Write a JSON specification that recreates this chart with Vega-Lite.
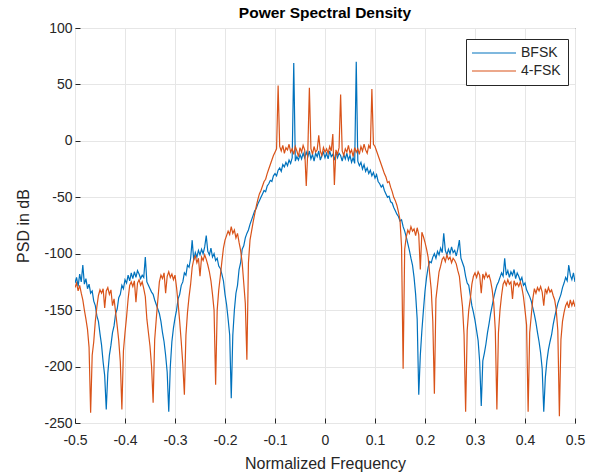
{
"$schema": "https://vega.github.io/schema/vega-lite/v6.json",
"width": 500, "height": 395,
"autosize": {"type": "none"},
"padding": {"left": 75, "top": 28, "right": 19, "bottom": 49},
"background": "white",
"title": {"text": "Power Spectral Density", "font": "Liberation Sans", "fontSize": 15.5, "fontWeight": "bold", "color": "#000000", "anchor": "middle", "offset": 0},
"config": {
  "view": {"stroke": "#262626", "strokeWidth": 1},
  "axis": {"labelFont": "Liberation Sans", "titleFont": "Liberation Sans", "labelFontSize": 14, "titleFontSize": 16, "titleFontWeight": "normal", "labelColor": "#262626", "titleColor": "#262626", "gridColor": "#e6e6e6", "gridWidth": 1, "domain": false, "tickColor": "#262626", "tickSize": -5, "labelExpr": "toString(datum.value)"}
},
"data": {"values": [
{"f":-0.5,"b":-126,"o":-130},{"f":-0.496875,"b":-121,"o":-126},{"f":-0.49375,"b":-129,"o":-133},{"f":-0.490625,"b":-118,"o":-128},{"f":-0.4875,"b":-125,"o":-135},{"f":-0.484375,"b":-110,"o":-141},{"f":-0.48125,"b":-127,"o":-150},{"f":-0.478125,"b":-122,"o":-158},{"f":-0.475,"b":-131,"o":-167},{"f":-0.471875,"b":-127,"o":-183},
{"f":-0.46875,"b":-135,"o":-241},{"f":-0.465625,"b":-133,"o":-190},{"f":-0.4625,"b":-142,"o":-178},{"f":-0.459375,"b":-146,"o":-160},{"f":-0.45625,"b":-155,"o":-147},{"f":-0.453125,"b":-160,"o":-137},{"f":-0.45,"b":-171,"o":-132},{"f":-0.446875,"b":-181,"o":-135},{"f":-0.44375,"b":-196,"o":-131},{"f":-0.440625,"b":-208,"o":-148},
{"f":-0.4375,"b":-238,"o":-133},{"f":-0.434375,"b":-206,"o":-130},{"f":-0.43125,"b":-190,"o":-136},{"f":-0.428125,"b":-181,"o":-132},{"f":-0.425,"b":-170,"o":-146},{"f":-0.421875,"b":-164,"o":-140},{"f":-0.41875,"b":-153,"o":-152},{"f":-0.415625,"b":-149,"o":-164},{"f":-0.4125,"b":-139,"o":-177},{"f":-0.409375,"b":-136,"o":-196},
{"f":-0.40625,"b":-128,"o":-238},{"f":-0.403125,"b":-131,"o":-186},{"f":-0.4,"b":-123,"o":-170},{"f":-0.396875,"b":-126,"o":-156},{"f":-0.39375,"b":-119,"o":-140},{"f":-0.390625,"b":-124,"o":-128},{"f":-0.3875,"b":-117,"o":-125},{"f":-0.384375,"b":-122,"o":-129},{"f":-0.38125,"b":-116,"o":-124},{"f":-0.378125,"b":-121,"o":-143},
{"f":-0.375,"b":-115,"o":-126},{"f":-0.371875,"b":-118,"o":-123},{"f":-0.36875,"b":-122,"o":-128},{"f":-0.365625,"b":-119,"o":-125},{"f":-0.3625,"b":-121,"o":-131},{"f":-0.359375,"b":-103,"o":-138},{"f":-0.35625,"b":-125,"o":-158},{"f":-0.353125,"b":-128,"o":-170},{"f":-0.35,"b":-131,"o":-182},{"f":-0.346875,"b":-134,"o":-200},
{"f":-0.34375,"b":-136,"o":-232},{"f":-0.340625,"b":-141,"o":-176},{"f":-0.3375,"b":-145,"o":-158},{"f":-0.334375,"b":-149,"o":-141},{"f":-0.33125,"b":-153,"o":-125},{"f":-0.328125,"b":-160,"o":-119},{"f":-0.325,"b":-170,"o":-122},{"f":-0.321875,"b":-178,"o":-117},{"f":-0.31875,"b":-190,"o":-135},{"f":-0.315625,"b":-205,"o":-120},
{"f":-0.3125,"b":-240,"o":-116},{"f":-0.309375,"b":-200,"o":-121},{"f":-0.30625,"b":-178,"o":-118},{"f":-0.303125,"b":-166,"o":-123},{"f":-0.3,"b":-157,"o":-119},{"f":-0.296875,"b":-150,"o":-130},{"f":-0.29375,"b":-140,"o":-144},{"f":-0.290625,"b":-136,"o":-160},{"f":-0.2875,"b":-128,"o":-178},{"f":-0.284375,"b":-125,"o":-198},
{"f":-0.28125,"b":-117,"o":-225},{"f":-0.278125,"b":-119,"o":-172},{"f":-0.275,"b":-110,"o":-152},{"f":-0.271875,"b":-112,"o":-138},{"f":-0.26875,"b":-104,"o":-127},{"f":-0.265625,"b":-88,"o":-112},{"f":-0.2625,"b":-106,"o":-105},{"f":-0.259375,"b":-99,"o":-102},{"f":-0.25625,"b":-103,"o":-108},{"f":-0.253125,"b":-97,"o":-104},
{"f":-0.25,"b":-101,"o":-120},{"f":-0.246875,"b":-96,"o":-103},{"f":-0.24375,"b":-100,"o":-106},{"f":-0.240625,"b":-94,"o":-101},{"f":-0.2375,"b":-84,"o":-105},{"f":-0.234375,"b":-98,"o":-110},{"f":-0.23125,"b":-101,"o":-116},{"f":-0.228125,"b":-95,"o":-124},{"f":-0.225,"b":-103,"o":-136},{"f":-0.221875,"b":-100,"o":-150},
{"f":-0.21875,"b":-106,"o":-216},{"f":-0.215625,"b":-104,"o":-150},{"f":-0.2125,"b":-111,"o":-132},{"f":-0.209375,"b":-113,"o":-120},{"f":-0.20625,"b":-118,"o":-107},{"f":-0.203125,"b":-124,"o":-95},{"f":-0.2,"b":-136,"o":-88},{"f":-0.196875,"b":-145,"o":-84},{"f":-0.19375,"b":-158,"o":-80},{"f":-0.190625,"b":-172,"o":-83},
{"f":-0.1875,"b":-228,"o":-76},{"f":-0.184375,"b":-172,"o":-82},{"f":-0.18125,"b":-150,"o":-79},{"f":-0.178125,"b":-135,"o":-86},{"f":-0.175,"b":-128,"o":-82},{"f":-0.171875,"b":-114,"o":-90},{"f":-0.16875,"b":-108,"o":-97},{"f":-0.165625,"b":-96,"o":-108},{"f":-0.1625,"b":-93,"o":-126},{"f":-0.159375,"b":-86,"o":-144},
{"f":-0.15625,"b":-82,"o":-194},{"f":-0.153125,"b":-79,"o":-108},{"f":-0.15,"b":-74,"o":-88},{"f":-0.146875,"b":-70,"o":-80},{"f":-0.14375,"b":-66,"o":-72},{"f":-0.140625,"b":-62,"o":-65},{"f":-0.1375,"b":-60,"o":-58},{"f":-0.134375,"b":-56,"o":-52},{"f":-0.13125,"b":-53,"o":-47},{"f":-0.128125,"b":-50,"o":-44},
{"f":-0.125,"b":-47,"o":-40},{"f":-0.121875,"b":-44,"o":-36},{"f":-0.11875,"b":-45,"o":-34},{"f":-0.115625,"b":-40,"o":-29},{"f":-0.1125,"b":-38,"o":-25},{"f":-0.109375,"b":-35,"o":-21},{"f":-0.10625,"b":-36,"o":-17},{"f":-0.103125,"b":-31,"o":-13},{"f":-0.1,"b":-29,"o":-10},{"f":-0.096875,"b":-31,"o":-7},
{"f":-0.09375,"b":-26,"o":49},{"f":-0.090625,"b":-24,"o":-5},{"f":-0.0875,"b":-27,"o":-9},{"f":-0.084375,"b":-21,"o":-4},{"f":-0.08125,"b":-23,"o":-11},{"f":-0.078125,"b":-19,"o":-6},{"f":-0.075,"b":-22,"o":-8},{"f":-0.071875,"b":-17,"o":-3},{"f":-0.06875,"b":-20,"o":-10},{"f":-0.065625,"b":-15,"o":-7},
{"f":-0.0625,"b":69,"o":-12},{"f":-0.059375,"b":-18,"o":-5},{"f":-0.05625,"b":-14,"o":-9},{"f":-0.053125,"b":-17,"o":-14},{"f":-0.05,"b":-12,"o":-6},{"f":-0.046875,"b":-16,"o":-10},{"f":-0.04375,"b":-11,"o":-4},{"f":-0.040625,"b":-15,"o":-8},{"f":-0.0375,"b":-10,"o":-40},{"f":-0.034375,"b":-14,"o":-9},
{"f":-0.03125,"b":-9,"o":47},{"f":-0.028125,"b":-16,"o":-7},{"f":-0.025,"b":-12,"o":-12},{"f":-0.021875,"b":-18,"o":-5},{"f":-0.01875,"b":-11,"o":-10},{"f":-0.015625,"b":-14,"o":-8},{"f":-0.0125,"b":-9,"o":5},{"f":-0.009375,"b":-17,"o":-9},{"f":-0.00625,"b":-13,"o":-13},{"f":-0.003125,"b":-10,"o":-6},
{"f":0,"b":-15,"o":-10},
{"f":0.003125,"b":-11,"o":-7},{"f":0.00625,"b":-16,"o":-11},{"f":0.009375,"b":-9,"o":-5},{"f":0.0125,"b":-14,"o":-9},{"f":0.015625,"b":-12,"o":6},{"f":0.01875,"b":-17,"o":-39},{"f":0.021875,"b":-10,"o":-8},{"f":0.025,"b":-15,"o":-12},{"f":0.028125,"b":-11,"o":-6},{"f":0.03125,"b":-13,"o":41},
{"f":0.034375,"b":-18,"o":-9},{"f":0.0375,"b":-12,"o":-13},{"f":0.040625,"b":-16,"o":-7},{"f":0.04375,"b":-11,"o":-10},{"f":0.046875,"b":-17,"o":-4},{"f":0.05,"b":-13,"o":-11},{"f":0.053125,"b":-19,"o":-8},{"f":0.05625,"b":-15,"o":-14},{"f":0.059375,"b":-20,"o":-6},{"f":0.0625,"b":70,"o":-10},
{"f":0.065625,"b":-18,"o":-7},{"f":0.06875,"b":-22,"o":-12},{"f":0.071875,"b":-19,"o":-5},{"f":0.075,"b":-25,"o":-9},{"f":0.078125,"b":-21,"o":-3},{"f":0.08125,"b":-27,"o":-8},{"f":0.084375,"b":-24,"o":-11},{"f":0.0875,"b":-29,"o":-4},{"f":0.090625,"b":-26,"o":-7},{"f":0.09375,"b":-31,"o":46},
{"f":0.096875,"b":-28,"o":-3},{"f":0.1,"b":-33,"o":-5},{"f":0.103125,"b":-30,"o":-9},{"f":0.10625,"b":-36,"o":-13},{"f":0.109375,"b":-38,"o":-17},{"f":0.1125,"b":-41,"o":-21},{"f":0.115625,"b":-39,"o":-25},{"f":0.11875,"b":-44,"o":-29},{"f":0.121875,"b":-47,"o":-32},{"f":0.125,"b":-50,"o":-37},
{"f":0.128125,"b":-49,"o":-36},{"f":0.13125,"b":-54,"o":-41},{"f":0.134375,"b":-55,"o":-45},{"f":0.1375,"b":-59,"o":-50},{"f":0.140625,"b":-62,"o":-53},{"f":0.14375,"b":-65,"o":-57},{"f":0.146875,"b":-67,"o":-63},{"f":0.15,"b":-71,"o":-70},{"f":0.153125,"b":-70,"o":-94},{"f":0.15625,"b":-76,"o":-202},
{"f":0.159375,"b":-80,"o":-96},{"f":0.1625,"b":-85,"o":-85},{"f":0.165625,"b":-91,"o":-79},{"f":0.16875,"b":-97,"o":-82},{"f":0.171875,"b":-104,"o":-76},{"f":0.175,"b":-110,"o":-80},{"f":0.178125,"b":-121,"o":-78},{"f":0.18125,"b":-136,"o":-84},{"f":0.184375,"b":-158,"o":-77},{"f":0.1875,"b":-225,"o":-83},
{"f":0.190625,"b":-190,"o":-114},{"f":0.19375,"b":-168,"o":-81},{"f":0.196875,"b":-150,"o":-85},{"f":0.2,"b":-133,"o":-90},{"f":0.203125,"b":-121,"o":-96},{"f":0.20625,"b":-112,"o":-103},{"f":0.209375,"b":-107,"o":-118},{"f":0.2125,"b":-108,"o":-132},{"f":0.215625,"b":-103,"o":-160},{"f":0.21875,"b":-100,"o":-224},
{"f":0.221875,"b":-104,"o":-140},{"f":0.225,"b":-98,"o":-128},{"f":0.228125,"b":-101,"o":-116},{"f":0.23125,"b":-95,"o":-111},{"f":0.234375,"b":-99,"o":-105},{"f":0.2375,"b":-82,"o":-103},{"f":0.240625,"b":-97,"o":-107},{"f":0.24375,"b":-101,"o":-101},{"f":0.246875,"b":-96,"o":-105},{"f":0.25,"b":-100,"o":-103},
{"f":0.253125,"b":-94,"o":-108},{"f":0.25625,"b":-99,"o":-104},{"f":0.259375,"b":-97,"o":-106},{"f":0.2625,"b":-102,"o":-109},{"f":0.265625,"b":-96,"o":-115},{"f":0.26875,"b":-88,"o":-120},{"f":0.271875,"b":-104,"o":-134},{"f":0.275,"b":-108,"o":-147},{"f":0.278125,"b":-112,"o":-172},{"f":0.28125,"b":-120,"o":-240},
{"f":0.284375,"b":-126,"o":-168},{"f":0.2875,"b":-128,"o":-150},{"f":0.290625,"b":-137,"o":-140},{"f":0.29375,"b":-146,"o":-127},{"f":0.296875,"b":-152,"o":-120},{"f":0.3,"b":-159,"o":-117},{"f":0.303125,"b":-168,"o":-121},{"f":0.30625,"b":-177,"o":-116},{"f":0.309375,"b":-196,"o":-119},{"f":0.3125,"b":-235,"o":-135},
{"f":0.315625,"b":-195,"o":-118},{"f":0.31875,"b":-188,"o":-122},{"f":0.321875,"b":-180,"o":-117},{"f":0.325,"b":-170,"o":-121},{"f":0.328125,"b":-162,"o":-119},{"f":0.33125,"b":-153,"o":-124},{"f":0.334375,"b":-146,"o":-132},{"f":0.3375,"b":-139,"o":-144},{"f":0.340625,"b":-133,"o":-168},{"f":0.34375,"b":-128,"o":-238},
{"f":0.346875,"b":-125,"o":-170},{"f":0.35,"b":-121,"o":-150},{"f":0.353125,"b":-117,"o":-137},{"f":0.35625,"b":-120,"o":-127},{"f":0.359375,"b":-104,"o":-124},{"f":0.3625,"b":-119,"o":-128},{"f":0.365625,"b":-115,"o":-123},{"f":0.36875,"b":-121,"o":-127},{"f":0.371875,"b":-116,"o":-125},{"f":0.375,"b":-119,"o":-140},
{"f":0.378125,"b":-114,"o":-124},{"f":0.38125,"b":-122,"o":-128},{"f":0.384375,"b":-117,"o":-126},{"f":0.3875,"b":-120,"o":-129},{"f":0.390625,"b":-124,"o":-125},{"f":0.39375,"b":-121,"o":-130},{"f":0.396875,"b":-128,"o":-138},{"f":0.4,"b":-126,"o":-150},{"f":0.403125,"b":-132,"o":-163},{"f":0.40625,"b":-135,"o":-240},
{"f":0.409375,"b":-138,"o":-170},{"f":0.4125,"b":-142,"o":-155},{"f":0.415625,"b":-148,"o":-140},{"f":0.41875,"b":-154,"o":-131},{"f":0.421875,"b":-161,"o":-135},{"f":0.425,"b":-170,"o":-130},{"f":0.428125,"b":-178,"o":-133},{"f":0.43125,"b":-188,"o":-129},{"f":0.434375,"b":-202,"o":-134},{"f":0.4375,"b":-240,"o":-146},
{"f":0.440625,"b":-210,"o":-131},{"f":0.44375,"b":-195,"o":-135},{"f":0.446875,"b":-185,"o":-130},{"f":0.45,"b":-178,"o":-134},{"f":0.453125,"b":-172,"o":-132},{"f":0.45625,"b":-163,"o":-137},{"f":0.459375,"b":-156,"o":-141},{"f":0.4625,"b":-150,"o":-150},{"f":0.465625,"b":-144,"o":-168},{"f":0.46875,"b":-140,"o":-244},
{"f":0.471875,"b":-136,"o":-176},{"f":0.475,"b":-130,"o":-160},{"f":0.478125,"b":-126,"o":-152},{"f":0.48125,"b":-121,"o":-146},{"f":0.484375,"b":-124,"o":-143},{"f":0.4875,"b":-110,"o":-148},{"f":0.490625,"b":-119,"o":-141},{"f":0.49375,"b":-123,"o":-146},{"f":0.496875,"b":-117,"o":-142},{"f":0.5,"b":-125,"o":-147}
]},
"encoding": {
  "x": {"field": "f", "type": "quantitative", "scale": {"domain": [-0.5, 0.5], "nice": false, "zero": false},
        "axis": {"title": "Normalized Frequency", "values": [-0.5,-0.4,-0.3,-0.2,-0.1,0,0.1,0.2,0.3,0.4,0.5], "labelPadding": 15, "titlePadding": 8, "labelFlush": false}}
},
"layer": [
  {"mark": {"type": "line", "strokeWidth": 1.2, "clip": true},
   "encoding": {
     "y": {"field": "b", "type": "quantitative", "scale": {"domain": [-250, 100], "nice": false, "zero": false},
           "axis": {"title": "PSD in dB", "values": [-250,-200,-150,-100,-50,0,50,100], "labelPadding": 8, "titlePadding": 12}},
     "color": {"datum": "BFSK", "type": "nominal",
       "scale": {"domain": ["BFSK", "4-FSK"], "range": ["#0072BD", "#D95319"]},
       "legend": {"orient": "none", "legendX": 391, "legendY": 11, "title": null, "strokeColor": "#262626", "fillColor": "white", "padding": 7, "symbolType": "M-4,0H4", "symbolSize": 121, "symbolStrokeWidth": 1.2, "labelFont": "Liberation Sans", "labelFontSize": 14, "labelColor": "#262626", "rowPadding": 4, "labelOffset": 20, "symbolOffset": 14}}
   }},
  {"mark": {"type": "line", "strokeWidth": 1.2, "clip": true},
   "encoding": {
     "y": {"field": "o", "type": "quantitative", "axis": {"title": "PSD in dB"}},
     "color": {"datum": "4-FSK", "type": "nominal"}
   }}
]
}
